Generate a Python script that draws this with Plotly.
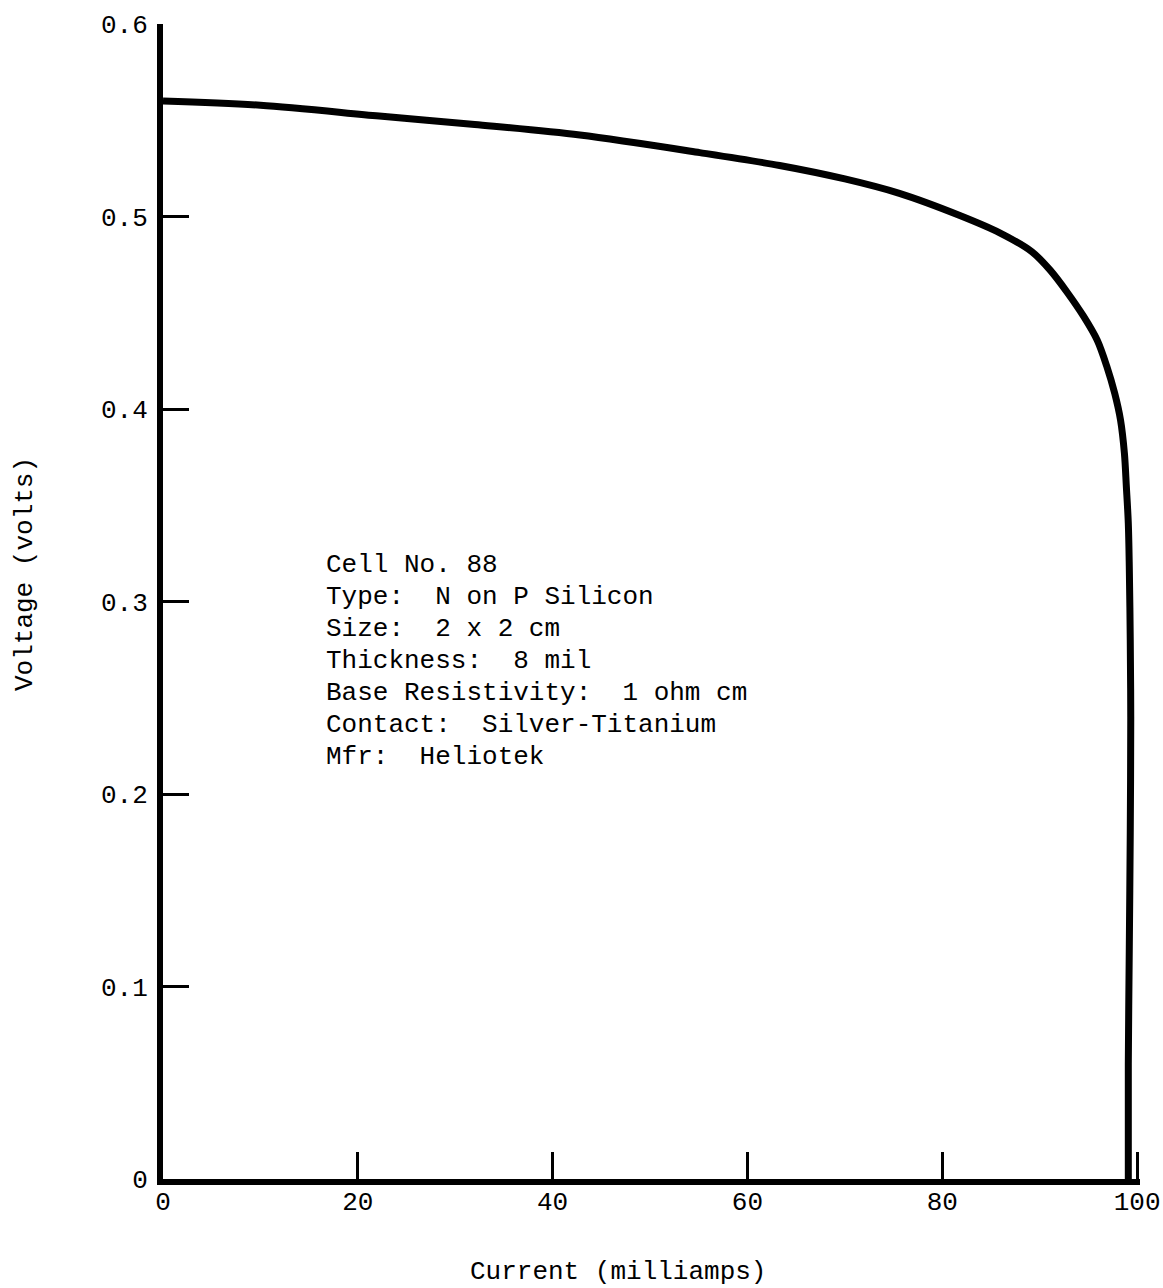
import plotly.graph_objects as go

# Data (current in mA, voltage in V)
current_ma = [0, 10, 22.2, 32, 42.8, 55.1, 63.3, 70.0, 75.6, 81.8, 85.9, 89.2, 91.1,
              92.8, 94.5, 95.9, 96.9, 97.7, 98.3, 98.7, 98.9, 99.1, 99.2, 99.3, 99.35,
              99.3, 99.2, 99.1, 99.1]
voltage_v = [0.5600, 0.5578, 0.5522, 0.5478, 0.5423, 0.5332, 0.5265, 0.5195, 0.5120,
             0.5005, 0.4915, 0.4817, 0.4720, 0.4608, 0.4482, 0.4358, 0.4220, 0.4082,
             0.3943, 0.3770, 0.3596, 0.3406, 0.3181, 0.28, 0.24, 0.18, 0.12, 0.06, 0.0]

x_ticks = [0, 20, 40, 60, 80, 100]
x_tick_text = ["0", "20", "40", "60", "80", "100"]
y_ticks = [0, 0.1, 0.2, 0.3, 0.4, 0.5, 0.6]
y_tick_text = ["0", "0.1", "0.2", "0.3", "0.4", "0.5", "0.6"]

info_lines = [
    "Cell No. 88",
    "Type:  N on P Silicon",
    "Size:  2 x 2 cm",
    "Thickness:  8 mil",
    "Base Resistivity:  1 ohm cm",
    "Contact:  Silver-Titanium",
    "Mfr:  Heliotek",
]

FONT = "Liberation Mono, Courier New, monospace"

fig = go.Figure()
fig.add_trace(go.Scatter(
    x=current_ma, y=voltage_v, mode="lines",
    line=dict(color="black", width=7, shape="spline", smoothing=0.9),
    hoverinfo="skip", showlegend=False,
))

W, H = 1163, 1288
L, R, T, B = 163, 23, 24, 109
plot_w = W - L - R
plot_h = H - T - B
x_max = 100.3


def px_to_x(px):
    return (px - L) / plot_w * x_max


def py_to_y(py):
    return (H - B - py) / plot_h * 0.6


annotations = []
for i, line in enumerate(info_lines):
    annotations.append(dict(
        x=px_to_x(324), y=py_to_y(565 + 32 * i), xref="x", yref="y",
        text=line, showarrow=False, xanchor="left", yanchor="middle",
        font=dict(family=FONT, size=26, color="black"),
    ))

# Axis titles
annotations.append(dict(
    x=(618 - L) / plot_w, y=-(1272 - (H - B)) / plot_h, xref="paper", yref="paper",
    text="Current (milliamps)", showarrow=False, xanchor="center", yanchor="middle",
    font=dict(family=FONT, size=26, color="black"),
))
annotations.append(dict(
    x=-(L - 25) / plot_w, y=(H - B - 574) / plot_h, xref="paper", yref="paper",
    text="Voltage (volts)", showarrow=False, xanchor="center", yanchor="middle",
    textangle=-90, font=dict(family=FONT, size=26, color="black"),
))

fig.update_layout(
    width=W, height=H,
    margin=dict(l=L, r=R, t=T, b=B),
    paper_bgcolor="white", plot_bgcolor="white",
    annotations=annotations,
    xaxis=dict(
        range=[0, x_max], tickvals=x_ticks, ticktext=x_tick_text,
        showgrid=False, zeroline=False, showline=True, linecolor="black", linewidth=6,
        ticks="inside", ticklen=27, tickwidth=3, tickcolor="black",
        tickfont=dict(family=FONT, size=26, color="black"),
        ticklabelstandoff=-6, automargin=False,
    ),
    yaxis=dict(
        range=[0, 0.6], tickvals=y_ticks, ticktext=y_tick_text,
        showgrid=False, zeroline=False, showline=True, linecolor="black", linewidth=6,
        ticks="inside", ticklen=26, tickwidth=3, tickcolor="black",
        tickfont=dict(family=FONT, size=26, color="black"),
        ticklabelstandoff=4, automargin=False,
    ),
)

fig.write_html("out.html")
